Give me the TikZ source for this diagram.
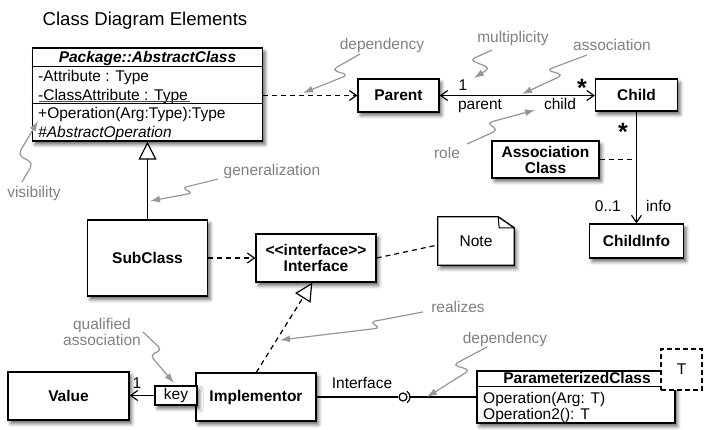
\documentclass[tikz,border=0pt]{standalone}
\usepackage{fontspec}
\setmainfont{Liberation Sans}
\usetikzlibrary{arrows.meta,calc,shadows.blur}
\newcommand\fs{\fontsize{15.5}{18}\selectfont}
\definecolor{anngray}{RGB}{128,128,128}
\definecolor{annline}{RGB}{150,150,150}
\tikzset{
 shad/.style={blur shadow={shadow xshift=2.5pt,shadow yshift=-3.5pt,shadow blur radius=3.5pt,shadow opacity=60}},
 umlbox/.style={draw, line width=1.35pt, fill=white, shad, inner sep=0pt, align=center, font=\fs\bfseries},
 txt/.style={inner sep=0pt, font=\fs, text height=11.5pt, text depth=1.5pt},
 anntxt/.style={inner sep=0pt, font=\fs, text=anngray, align=center},
 ann/.style={draw=annline, line width=1.2pt, rounded corners=5pt, -{Latex[length=10pt,width=7pt]}},
 link/.style={line width=1.2pt},
 openarr/.style={-{Straight Barb[length=7pt,width=10pt]}},
 dashline/.style={link, dash pattern=on 5pt off 4pt},
 dep/.style={dashline, openarr},
 startxt/.style={inner sep=0pt, anchor=base, font=\fontsize{25}{25}\selectfont\bfseries},
 gentip/.style={-{Triangle[fill=white,length=18pt,width=18pt]}},
}
\begin{document}
\begin{tikzpicture}[x=1pt,y=-1pt]
\useasboundingbox (0,0) rectangle (706,430);
\node[inner sep=0pt, font=\fontsize{18.6}{22}\selectfont] (title) at (145,21) {Class Diagram Elements};

% ---- abstract class
\node[umlbox, minimum width=230pt, minimum height=93pt] (abs) at (147.5,94.5) {};
\draw[line width=1.3pt] ($(abs.north west)+(0,19)$) -- ($(abs.north east)+(0,19)$);
\draw[line width=1.3pt] ($(abs.north west)+(0,56)$) -- ($(abs.north east)+(0,56)$);
\node[txt, font=\fs\bfseries\itshape] (absname) at (147.5,58) {Package::AbstractClass};
\node[txt, anchor=west] (attr1) at (38,77) {-Attribute : Type};
\node[txt, anchor=west] (attr2) at (38,96) {-ClassAttribute : Type};
\draw[line width=1pt, black!70] (39,101.8) -- (190,101.8);
\node[txt, anchor=west] (op1) at (38,114) {+Operation(Arg:Type):Type};
\node[txt, anchor=west, font=\fs\itshape] (op2) at (38,133) {\#AbstractOperation};

% ---- boxes
\node[umlbox, minimum width=81pt, minimum height=33pt] (parent) at (398.5,95.5) {Parent};
\node[umlbox, minimum width=82pt, minimum height=32pt] (child) at (636.5,95) {Child};
\node[umlbox, minimum width=107pt, minimum height=37pt] (assoc) at (545.5,159.5) {Association\\[-2pt]Class};
\node[umlbox, minimum width=94pt, minimum height=34pt] (childinfo) at (636.5,241) {ChildInfo};
\node[umlbox, minimum width=120pt, minimum height=76pt] (sub) at (147.5,258) {SubClass};
\node[umlbox, minimum width=120pt, minimum height=48pt] (iface) at (316,258) {<\kern0pt<interface>\kern0pt>\\[-2pt]Interface};
\node[umlbox, minimum width=121pt, minimum height=48pt] (value) at (68.5,396) {Value};
\node[umlbox, minimum width=120pt, minimum height=48pt] (impl) at (256,397) {Implementor};
\node[umlbox, font=\fs, minimum width=42pt, minimum height=19pt] (key) at (176,395.5) {key};

% ---- note
\path node[minimum width=76pt, minimum height=48pt, inner sep=0pt] (note) at (476,241) {};
\draw[line width=1.35pt, fill=white, shad] (note.north west) -- ($(note.north east)+(-16,0)$) -- ($(note.north east)+(0,11)$) -- (note.south east) -- (note.south west) -- cycle;
\draw[line width=1pt] ($(note.north east)+(-16,0)$) -- ($(note.north east)+(-15,11)$) -- ($(note.north east)+(0,11)$);
\node[inner sep=0pt, font=\fs] (notetext) at (note.center) {Note};

% ---- parameterized class
\node[umlbox, minimum width=198pt, minimum height=52pt] (param) at (576,397) {};
\draw[line width=1.3pt] ($(param.north west)+(0,16)$) -- ($(param.north east)+(0,16)$);
\node[txt, font=\fs\bfseries] (pname) at (577,378) {ParameterizedClass};
\node[txt, anchor=west] (pop1) at (483,398) {Operation(Arg: T)};
\node[txt, anchor=west] (pop2) at (483,414) {Operation2(): T};
\node[draw, dash pattern=on 5pt off 3pt, line width=1.2pt, fill=white, minimum size=41pt, inner sep=0pt, font=\fs] (tpar) at (681.5,369.5) {T};

% ---- connectors
\draw[link, gentip] (sub.north) -- (abs.south);
\draw[dep] (sub.east) -- (iface.west);
\draw[dashline, gentip] ($(impl.north west)+(61,0)$) -- ($(iface.south west)+(57,0)$);
\draw[dep] (abs.east |- parent.west) -- (parent.west);
\draw[link, {Straight Barb[length=7pt,width=10pt]}-{Straight Barb[length=7pt,width=10pt]}] (parent.east) -- (parent.east -| child.west);
\draw[link, openarr] (child.south) -- (childinfo.north);
\draw[dashline] (assoc.east) -- (assoc.east -| child.south);
\draw[dashline] (iface.east) -- ($(note.west)+(0,4)$);
\draw[link, openarr] (key.west) -- (value.east |- key.west);
\node[circle, draw, line width=1.2pt, minimum size=8pt, inner sep=0pt, fill=white] (ball) at (403,397) {};
\draw[link] (impl.east) -- (ball.west);
\draw[link] ($(ball.center)+(-55:7)$) arc[start angle=-55, end angle=55, radius=7];
\draw[link] ($(ball.center)+(7,0)$) -- (param.west);

% ---- connector labels
\node[txt] (m1) at (463,86) {1};
\node[startxt] (m2) at (582,97) {*};
\node[txt] (rparent) at (480,105) {parent};
\node[txt] (rchild) at (560,105) {child};
\node[startxt] (m3) at (623,141) {*};
\node[txt, anchor=east] (m4) at (621,207) {0..1};
\node[txt, anchor=west] (rinfo) at (646,207) {info};
\node[txt] (m5) at (137,383) {1};
\node[txt] (ilabel) at (362,383) {Interface};

% ---- annotations
\node[anntxt] (a1) at (382,45) {dependency};
\node[anntxt] (a2) at (513,38) {multiplicity};
\node[anntxt] (a3) at (612,45) {association};
\node[anntxt] (a4) at (447,153) {role};
\node[anntxt] (a5) at (272,171) {generalization};
\node[anntxt] (a6) at (34,193) {visibility};
\node[anntxt] (a7) at (102,332) {qualified\\[-2pt]association};
\node[anntxt] (a8) at (458,307) {realizes};
\node[anntxt] (a9) at (505,339) {dependency};

\draw[ann] (360,54) -- (332,70) -- (348,75) -- (303,93);
\draw[ann] (492,50) -- (470,60) -- (490,68) -- (474,78);
\draw[ann] (587,55) -- (547,70) -- (563,75) -- (522,94);
\draw[ann] (467,144) -- (498,130) -- (487,123) -- (535,110);
\draw[ann] (218,179) -- (182,188) -- (193,193) -- (150,201);
\draw[ann] (22,182) -- (33,163) -- (18,155) -- (38,121);
\draw[ann] (143,332) -- (162,350) -- (150,355) -- (174,383);
\draw[ann] (423,312) -- (370,322) -- (380,328) -- (280,340);
\draw[ann] (487,347) -- (453,365) -- (470,370) -- (427,397);
\end{tikzpicture}
\end{document}
